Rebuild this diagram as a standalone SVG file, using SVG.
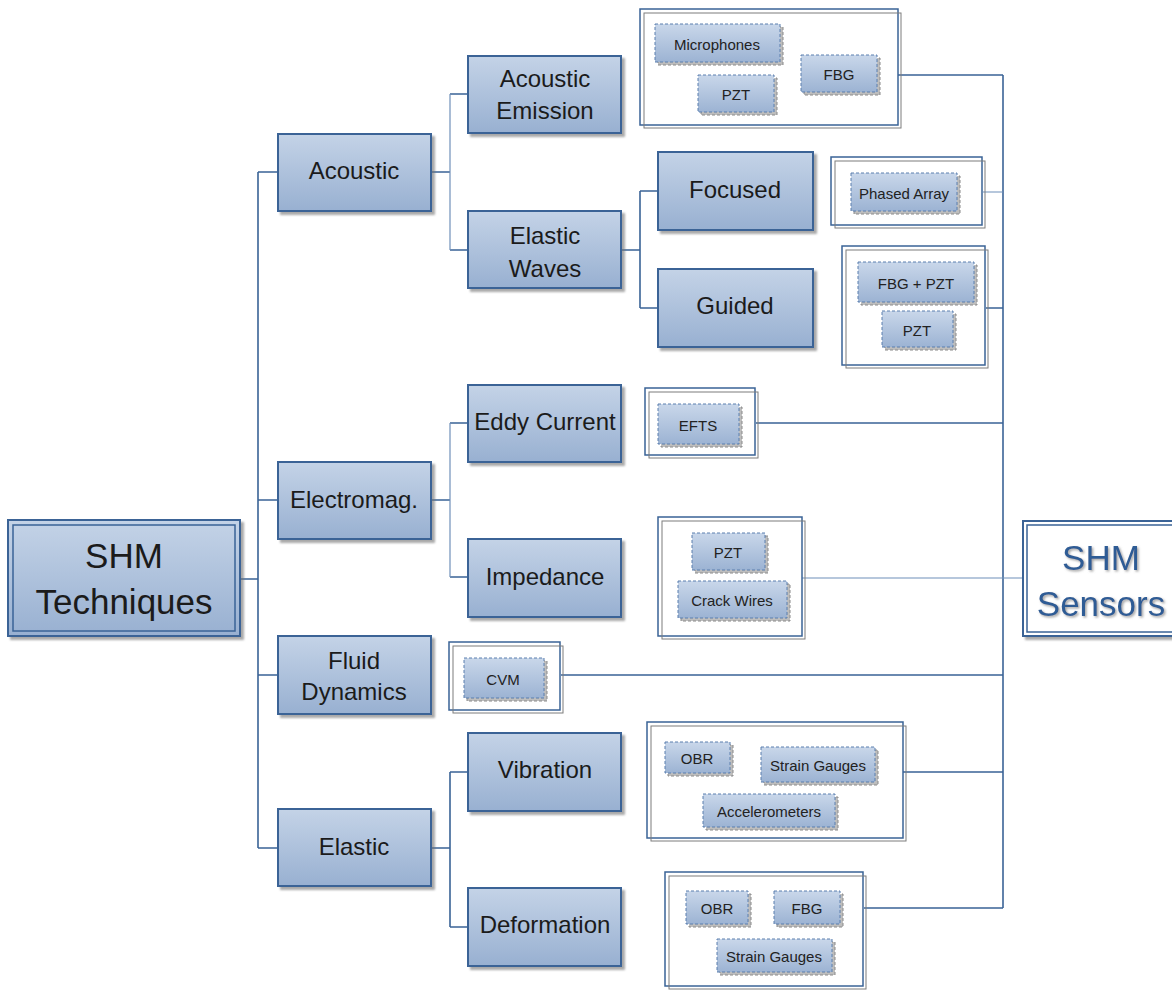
<svg xmlns="http://www.w3.org/2000/svg" width="1172" height="990" viewBox="0 0 1172 990">
  <defs>
    <linearGradient id="nodeFill" x1="0" y1="0" x2="0" y2="1">
      <stop offset="0" stop-color="#c4d3e7"/>
      <stop offset="1" stop-color="#98b0d1"/>
    </linearGradient>
    <linearGradient id="itemFill" x1="0" y1="0" x2="0" y2="1">
      <stop offset="0" stop-color="#c9d7ea"/>
      <stop offset="1" stop-color="#9cb3d3"/>
    </linearGradient>
    <filter id="shadow" x="-10%" y="-10%" width="130%" height="140%">
      <feDropShadow dx="3" dy="3" stdDeviation="1.2" flood-color="#6f6f6f" flood-opacity="0.6"/>
    </filter>
    <filter id="textGlow" x="-10%" y="-20%" width="130%" height="150%">
      <feDropShadow dx="1.5" dy="1.5" stdDeviation="1" flood-color="#8a8a8a" flood-opacity="0.8"/>
    </filter>
  </defs>
  <style>
    .node { fill: url(#nodeFill); stroke: #3a6396; stroke-width: 2; filter: url(#shadow); }
    .root-in { fill: none; stroke: #3a6396; stroke-width: 1.5; }
    .lbl { font-family: "Liberation Sans", Arial, sans-serif; font-size: 24px; fill: #1b1b1b; text-anchor: middle; dominant-baseline: central; }
    .big { font-size: 35px; }
    .sens { fill: #2f5c95; filter: url(#textGlow); }
    .frame { fill: #ffffff; stroke: #3a6396; stroke-width: 1.5; }
    .frame2 { fill: none; stroke: #7d7d7d; stroke-width: 1; }
    .item-sh { fill: #bdbdbd; stroke: #8a8a8a; stroke-width: 1; stroke-dasharray: 3 2; }
    .item { fill: url(#itemFill); stroke: #5a7fae; stroke-width: 1; stroke-dasharray: 3 2; }
    .itxt { font-family: "Liberation Sans", Arial, sans-serif; font-size: 15px; fill: #222; text-anchor: middle; dominant-baseline: central; }
    .wire { fill: none; stroke: #3a6396; stroke-width: 1.6; }
    .wire-l { fill: none; stroke: #6f8fb9; stroke-width: 1.2; }
  </style>

  <!-- connectors -->
  <g id="connectors">
    <path class="wire" d="M240 579 H258 M258 172 V848 M258 172 H278 M258 500 H278 M258 675 H278 M258 848 H278"/>
    <path class="wire" d="M431 172 H450 M450 94 H468 M450 250 H468"/>
    <path class="wire-l" d="M450 94 V250"/>
    <path class="wire" d="M431 500 H450 M450 423 H468 M450 577 H468"/>
    <path class="wire-l" d="M450 423 V577"/>
    <path class="wire" d="M431 848 H450 M450 772 V927 M450 772 H468 M450 927 H468"/>
    <path class="wire" d="M621 250 H640 M640 191 V308 M640 191 H658 M640 308 H658"/>
    <path class="wire" d="M1003 75 V908"/>
    <path class="wire" d="M898 75 H1003 M986 308 H1003 M756 423 H1003 M561 675 H1003 M903 772 H1003 M864 908 H1003"/>
    <path class="wire-l" d="M983 192 H1003 M802 578 H1023"/>
  </g>

  <!-- root: SHM Techniques -->
  <g id="shm-techniques">
    <rect class="node" x="8" y="520" width="232" height="116"/>
    <rect class="root-in" x="13" y="525" width="222" height="106"/>
    <text class="lbl big" x="124" y="555">SHM</text>
    <text class="lbl big" x="124" y="601">Techniques</text>
  </g>

  <!-- level 1 -->
  <g id="acoustic"><rect class="node" x="278" y="134" width="153" height="77"/><text class="lbl" x="354" y="170">Acoustic</text></g>
  <g id="electromag"><rect class="node" x="278" y="462" width="153" height="77"/><text class="lbl" x="354" y="499">Electromag.</text></g>
  <g id="fluid-dynamics"><rect class="node" x="278" y="636" width="153" height="78"/><text class="lbl" x="354" y="660">Fluid</text><text class="lbl" x="354" y="691">Dynamics</text></g>
  <g id="elastic"><rect class="node" x="278" y="809" width="153" height="77"/><text class="lbl" x="354" y="846">Elastic</text></g>

  <!-- level 2 -->
  <g id="acoustic-emission"><rect class="node" x="468" y="56" width="153" height="77"/><text class="lbl" x="545" y="78">Acoustic</text><text class="lbl" x="545" y="110">Emission</text></g>
  <g id="elastic-waves"><rect class="node" x="468" y="211" width="153" height="77"/><text class="lbl" x="545" y="235">Elastic</text><text class="lbl" x="545" y="268">Waves</text></g>
  <g id="eddy-current"><rect class="node" x="468" y="385" width="153" height="77"/><text class="lbl" x="545" y="421">Eddy Current</text></g>
  <g id="impedance"><rect class="node" x="468" y="539" width="153" height="78"/><text class="lbl" x="545" y="576">Impedance</text></g>
  <g id="vibration"><rect class="node" x="468" y="733" width="153" height="78"/><text class="lbl" x="545" y="769">Vibration</text></g>
  <g id="deformation"><rect class="node" x="468" y="888" width="153" height="78"/><text class="lbl" x="545" y="924">Deformation</text></g>

  <!-- level 3 -->
  <g id="focused"><rect class="node" x="658" y="152" width="155" height="78"/><text class="lbl" x="735" y="189">Focused</text></g>
  <g id="guided"><rect class="node" x="658" y="269" width="155" height="78"/><text class="lbl" x="735" y="305">Guided</text></g>

  <!-- sensor groups -->
  <g id="sensors-acoustic-emission">
    <rect class="frame" x="640" y="9" width="258" height="116"/>
    <rect class="frame2" x="644" y="13" width="257" height="115"/>
    <rect class="item-sh" x="658" y="27" width="125" height="38"/><rect class="item" x="655" y="24" width="125" height="38"/><text class="itxt" x="717" y="44">Microphones</text>
    <rect class="item-sh" x="701" y="78" width="76" height="37"/><rect class="item" x="698" y="75" width="76" height="37"/><text class="itxt" x="736" y="94">PZT</text>
    <rect class="item-sh" x="804" y="58" width="76" height="37"/><rect class="item" x="801" y="55" width="76" height="37"/><text class="itxt" x="839" y="74">FBG</text>
  </g>

  <g id="sensors-focused">
    <rect class="frame" x="831" y="157" width="151" height="68"/>
    <rect class="frame2" x="835" y="161" width="150" height="67"/>
    <rect class="item-sh" x="854" y="176" width="106" height="38"/><rect class="item" x="851" y="173" width="106" height="38"/><text class="itxt" x="904" y="193">Phased Array</text>
  </g>

  <g id="sensors-guided">
    <rect class="frame" x="842" y="246" width="143" height="119"/>
    <rect class="frame2" x="846" y="250" width="142" height="118"/>
    <rect class="item-sh" x="861" y="265" width="116" height="40"/><rect class="item" x="858" y="262" width="116" height="40"/><text class="itxt" x="916" y="283">FBG + PZT</text>
    <rect class="item-sh" x="885" y="314" width="71" height="36"/><rect class="item" x="882" y="311" width="71" height="36"/><text class="itxt" x="917" y="330">PZT</text>
  </g>

  <g id="sensors-eddy-current">
    <rect class="frame" x="645" y="388" width="110" height="67"/>
    <rect class="frame2" x="649" y="392" width="109" height="66"/>
    <rect class="item-sh" x="661" y="407" width="81" height="40"/><rect class="item" x="658" y="404" width="81" height="40"/><text class="itxt" x="698" y="425">EFTS</text>
  </g>

  <g id="sensors-impedance">
    <rect class="frame" x="658" y="517" width="144" height="119"/>
    <rect class="frame2" x="662" y="521" width="143" height="118"/>
    <rect class="item-sh" x="695" y="536" width="73" height="37"/><rect class="item" x="692" y="533" width="73" height="37"/><text class="itxt" x="728" y="552">PZT</text>
    <rect class="item-sh" x="681" y="584" width="109" height="37"/><rect class="item" x="678" y="581" width="109" height="37"/><text class="itxt" x="732" y="600">Crack Wires</text>
  </g>

  <g id="sensors-fluid-dynamics">
    <rect class="frame" x="449" y="642" width="111" height="68"/>
    <rect class="frame2" x="453" y="646" width="110" height="67"/>
    <rect class="item-sh" x="467" y="661" width="80" height="40"/><rect class="item" x="464" y="658" width="80" height="40"/><text class="itxt" x="503" y="679">CVM</text>
  </g>

  <g id="sensors-vibration">
    <rect class="frame" x="647" y="722" width="256" height="116"/>
    <rect class="frame2" x="651" y="726" width="255" height="115"/>
    <rect class="item-sh" x="668" y="745" width="65" height="31"/><rect class="item" x="665" y="742" width="65" height="31"/><text class="itxt" x="697" y="758">OBR</text>
    <rect class="item-sh" x="764" y="750" width="114" height="35"/><rect class="item" x="761" y="747" width="114" height="35"/><text class="itxt" x="818" y="765">Strain Gauges</text>
    <rect class="item-sh" x="706" y="797" width="132" height="33"/><rect class="item" x="703" y="794" width="132" height="33"/><text class="itxt" x="769" y="811">Accelerometers</text>
  </g>

  <g id="sensors-deformation">
    <rect class="frame" x="665" y="872" width="198" height="114"/>
    <rect class="frame2" x="669" y="876" width="197" height="113"/>
    <rect class="item-sh" x="689" y="894" width="62" height="33"/><rect class="item" x="686" y="891" width="62" height="33"/><text class="itxt" x="717" y="908">OBR</text>
    <rect class="item-sh" x="777" y="894" width="66" height="33"/><rect class="item" x="774" y="891" width="66" height="33"/><text class="itxt" x="807" y="908">FBG</text>
    <rect class="item-sh" x="720" y="942" width="115" height="33"/><rect class="item" x="717" y="939" width="115" height="33"/><text class="itxt" x="774" y="956">Strain Gauges</text>
  </g>

  <!-- root: SHM Sensors -->
  <g id="shm-sensors">
    <rect x="1023" y="521" width="160" height="115" fill="#ffffff" stroke="#3a6396" stroke-width="2" filter="url(#shadow)"/>
    <rect class="root-in" x="1027" y="525" width="152" height="107"/>
    <text class="lbl big sens" x="1101" y="557">SHM</text>
    <text class="lbl big sens" x="1101" y="603">Sensors</text>
  </g>
</svg>
